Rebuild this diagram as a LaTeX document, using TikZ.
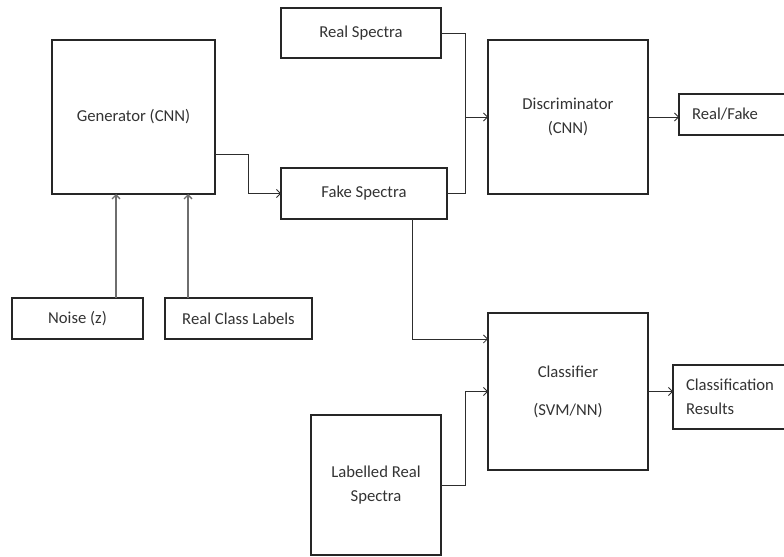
\documentclass[tikz,border=0pt]{standalone}
\usepackage{fontspec}
\setmainfont{Carlito}
\usetikzlibrary{arrows.meta}

\begin{document}
\begin{tikzpicture}[x=0.75pt,y=0.75pt,yscale=-1,xscale=1,
  wh/.style 2 args={minimum width=#1*0.75pt, minimum height=#2*0.75pt},
  block/.style={draw={rgb,255:red,38;green,38;blue,38}, line width=1.1pt, inner sep=0pt, outer sep=0pt, align=center, text={rgb,255:red,51;green,51;blue,51}, font=\fontsize{12.5}{18}\selectfont},
  sidebox/.style={block, anchor=west, align=left, text width=78pt, inner xsep=9.75pt},
  link/.style={draw={rgb,255:red,45;green,45;blue,45}, line width=0.6pt},
  arr/.style={link, -{Straight Barb[length=3pt,width=6pt]}},
  feed/.style={arr, draw={rgb,255:red,110;green,110;blue,110}, line width=1pt}]
\useasboundingbox (0,0) rectangle (784,556);
\clip (0,0) rectangle (784,556);

%Shape: Rectangle
\node [block, wh={163}{154}] (gen) at (133.5,117) {Generator (CNN)};
%Shape: Rectangle
\node [block, wh={160}{50}] (real) at (361,33) {Real Spectra};
%Shape: Rectangle
\node [block, wh={166}{51}] (fake) at (364,193.5) {Fake Spectra};
%Shape: Rectangle
\node [block, wh={160}{154}] (disc) at (568,117) {Discriminator\\(CNN)};
%Shape: Rectangle
\node [sidebox, wh={130}{41}] (rf) at (679,114.5) {Real/Fake};
%Shape: Rectangle
\node [block, wh={131}{41}] (noise) at (77.5,318.5) {Noise (z)};
%Shape: Rectangle
\node [block, wh={147}{41}] (labels) at (238.5,318.5) {Real Class Labels};
%Shape: Rectangle
\node [block, wh={160}{157}] (clf) at (568,391.5) {Classifier\\[10.5pt](SVM/NN)};
%Shape: Rectangle
\node [sidebox, wh={130}{64}] (cres) at (673,397) {Classification\\Results};
%Shape: Rectangle
\node [block, wh={130}{140}] (lrs) at (376,485) {Labelled Real\\Spectra};

%Straight Lines
\draw [feed] (noise.north) ++(38.5,0) coordinate (nz) -- (nz |- gen.south);
\draw [feed] (labels.north) ++(-50.5,0) coordinate (lb) -- (lb |- gen.south);
%Straight Lines
\draw [arr] ([yshift=27.75pt]gen.east) -- ++(33,0) |- (fake.west);
%Straight Lines
\coordinate (jd) at (465,117);
\draw [link] (real.east) -| (jd);
\draw [link] (fake.east) -| (jd);
\draw [arr] (jd) -- (disc.west);
\draw [arr] (disc.east) -- (disc.east -| rf.west);
%Straight Lines
\draw [arr] (fake.south) ++(48,0) coordinate (fs) |- ([yshift=-39.4pt]clf.west);
\draw [arr] (lrs.east) -- ++(24,0) |- (clf.west);
\draw [arr] (clf.east) -- (clf.east -| cres.west);

\end{tikzpicture}
\end{document}
